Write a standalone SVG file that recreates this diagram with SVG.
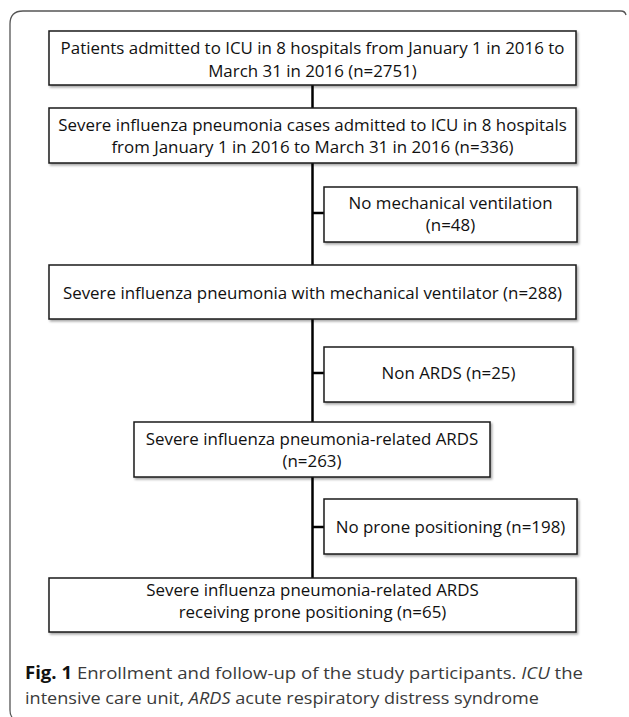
<svg xmlns="http://www.w3.org/2000/svg" width="629" height="717" viewBox="0 0 629 717">
<defs>
<filter id="sh" x="-5%" y="-10%" width="115%" height="130%">
<feDropShadow dx="1.5" dy="1.8" stdDeviation="1.2" flood-color="#000" flood-opacity="0.35"/>
</filter>
<style>
.box{fill:#fff;stroke:#1a1a1a;stroke-width:1.5;filter:url(#sh)}
.t{font-family:"Open Sans","Liberation Sans",sans-serif;font-size:16.9px;fill:#111;text-anchor:middle}
.c{font-family:"Open Sans","Liberation Sans",sans-serif;font-size:17px;fill:#3a3a3a}
.ln{stroke:#000;stroke-width:2.5;fill:none}
</style>
</defs>
<rect width="629" height="717" fill="#fff"/>
<path d="M12,717 Q10,715 10,710 L10,24 Q10,11 23,11 L621,11 Q625,11 626,15" fill="none" stroke="#555" stroke-width="1.3"/>
<g id="connectors">
<line class="ln" x1="312.5" y1="85" x2="312.5" y2="578"/>
<line class="ln" x1="312.5" y1="213" x2="324" y2="213"/>
<line class="ln" x1="312.5" y1="373" x2="324" y2="373"/>
<line class="ln" x1="312.5" y1="527" x2="324" y2="527"/>
</g>
<g id="n1">
<rect class="box" x="49" y="31" width="527" height="54"/>
<text class="t" x="312.5" y="53.5">Patients admitted to ICU in 8 hospitals from January 1 in 2016 to</text>
<text class="t" x="312.5" y="76.5">March 31 in 2016 (n=2751)</text>
</g>
<g id="n2">
<rect class="box" x="49" y="108" width="527" height="55"/>
<text class="t" x="312.5" y="130.5">Severe influenza pneumonia cases admitted to ICU in 8 hospitals</text>
<text class="t" x="312.5" y="152.5">from January 1 in 2016 to March 31 in 2016 (n=336)</text>
</g>
<g id="n3">
<rect class="box" x="324" y="187" width="253" height="55"/>
<text class="t" x="450.5" y="208.5">No mechanical ventilation</text>
<text class="t" x="450.5" y="230.5">(n=48)</text>
</g>
<g id="n4">
<rect class="box" x="49" y="265" width="527" height="54"/>
<text class="t" x="312.5" y="298.5">Severe influenza pneumonia with mechanical ventilator (n=288)</text>
</g>
<g id="n5">
<rect class="box" x="324" y="347" width="249" height="55"/>
<text class="t" x="448.5" y="378.5">Non ARDS (n=25)</text>
</g>
<g id="n6">
<rect class="box" x="134" y="422" width="356" height="55"/>
<text class="t" x="312" y="444.5">Severe influenza pneumonia-related ARDS</text>
<text class="t" x="312" y="467">(n=263)</text>
</g>
<g id="n7">
<rect class="box" x="324" y="499" width="253" height="55"/>
<text class="t" x="450.5" y="532.5">No prone positioning (n=198)</text>
</g>
<g id="n8">
<rect class="box" x="49" y="578" width="527" height="54"/>
<text class="t" x="312.5" y="595.5">Severe influenza pneumonia-related ARDS</text>
<text class="t" x="312.5" y="618">receiving prone positioning (n=65)</text>
</g>
<g id="caption">
<text class="c" x="25" y="679" textLength="558" lengthAdjust="spacingAndGlyphs"><tspan font-weight="bold" fill="#111">Fig. 1</tspan>  Enrollment and follow-up of the study participants. <tspan font-style="italic">ICU</tspan> the</text>
<text class="c" x="25" y="704" textLength="514" lengthAdjust="spacingAndGlyphs">intensive care unit, <tspan font-style="italic">ARDS</tspan> acute respiratory distress syndrome</text>
</g>
</svg>
